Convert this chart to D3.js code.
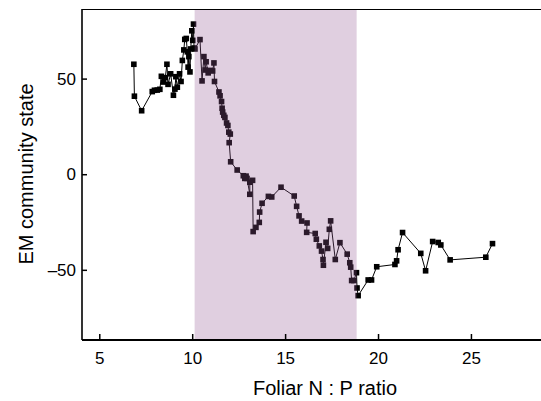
<!DOCTYPE html>
<html>
<head>
<meta charset="utf-8">
<script src="https://cdn.jsdelivr.net/npm/d3@7"></script>
<style>
  body { margin: 0; background: #fff; }
  svg { display: block; font-family: "Liberation Sans", Arial, sans-serif; }
</style>
</head>
<body>
<svg id="chart" width="541" height="401"></svg>
<script>
// foliar N:P ratio (x) and EM community state (y), in line order
var npRatio = [6.86, 6.89, 7.28, 7.85, 7.97, 8.12, 8.26, 8.34, 8.45, 8.55, 8.64, 8.70, 8.84, 8.99, 9.07, 9.12, 9.20, 9.32, 9.40,
  9.47, 9.55, 9.60, 9.68, 9.74, 9.78, 9.82, 9.88, 9.92, 9.98, 10.03, 10.07, 10.10, 10.15, 10.42, 10.53, 10.63, 10.70, 10.75,
  10.86, 10.99, 11.10, 11.17, 11.20, 11.44, 11.50, 11.58, 11.61, 11.64, 11.70, 11.76, 11.85, 11.92, 11.97, 12.05, 11.99, 12.07,
  12.42, 12.75, 12.83, 12.90, 12.95, 13.10, 13.10, 13.25, 13.28, 13.43, 13.61, 13.63, 13.76, 14.10, 14.28, 14.78, 15.49, 15.62,
  15.75, 15.89, 16.18, 16.16, 16.62, 16.68, 16.84, 16.96, 17.04, 17.06, 17.20, 17.29, 17.38, 17.45, 17.70, 17.95, 18.34, 18.48,
  18.53, 18.58, 18.70, 18.84, 18.87, 18.93, 19.47, 19.65, 19.93, 20.91, 21.00, 21.08, 21.32, 22.30, 22.56, 22.94, 23.24, 23.38,
  23.88, 25.80, 26.16]
var emState = [57.5, 40.8, 33.2, 43.2, 43.9, 44.0, 44.4, 51.2, 48.2, 50.5, 57.5, 47.0, 52.5, 41.3, 44.5, 51.0, 45.5, 52.5, 48.5,
  59.5, 65.0, 70.5, 71.0, 64.0, 56.0, 61.5, 53.5, 65.5, 75.0, 70.0, 78.5, 66.0, 65.5, 70.4, 48.8, 61.5, 54.5, 58.8,
  53.0, 54.3, 54.0, 58.2, 48.5, 43.0, 41.0, 38.0, 34.5, 32.5, 30.8, 29.7, 26.8, 25.5, 22.0, 21.0, 16.5, 6.5,
  2.2, -0.8, -2.2, -1.0, -2.2, -10.5, -4.2, -3.2, -30.0, -27.8, -25.2, -19.8, -15.2, -11.6, -11.9, -6.8, -11.4, -16.8,
  -21.8, -24.5, -25.5, -30.4, -31.0, -34.0, -37.5, -40.2, -44.6, -47.6, -35.6, -38.8, -28.8, -24.4, -44.6, -35.8, -41.8, -46.3,
  -48.6, -55.6, -55.6, -51.5, -59.5, -63.5, -55.3, -55.3, -48.4, -47.2, -45.3, -39.5, -30.5, -41.4, -50.5, -35.2, -35.7, -37.0,
  -44.8, -43.4, -36.3]
var band = [10.13, 18.85]
var xTicks = [5, 10, 15, 20, 25]
var yTicks = [-50, 0, 50]

var svg = d3.select('#chart')
var plotL = 82, plotR = 545, plotT = 9, plotB = 340

var x = d3.scaleLinear().domain([4.07, 28.77]).range([plotL, 541])
var y = d3.scaleLinear().domain([-86.7, 86.4]).range([plotB, plotT])

var pts = npRatio.map(function(v, i) { return {x: v, y: emState[i]} })

svg.append('path')
  .datum(pts)
  .attr('fill', 'none')
  .attr('stroke', '#000')
  .attr('stroke-width', 1)
  .attr('d', d3.line().x(function(d) { return x(d.x) }).y(function(d) { return y(d.y) }))

svg.selectAll('rect.pt').data(pts).enter()
  .append('rect')
  .attr('class', 'pt')
  .attr('x', function(d) { return x(d.x) - 2.8 })
  .attr('y', function(d) { return y(d.y) - 2.8 })
  .attr('width', 5.6)
  .attr('height', 5.6)
  .attr('fill', '#000')

// shaded range sits over the marks, tinting them
svg.append('rect')
  .attr('x', x(band[0]))
  .attr('y', plotT)
  .attr('width', x(band[1]) - x(band[0]))
  .attr('height', plotB - plotT)
  .attr('fill', '#945a94')
  .attr('fill-opacity', 0.29)

// frame
svg.append('line').attr('x1', plotL).attr('x2', plotR).attr('y1', plotT + 0.5).attr('y2', plotT + 0.5)
  .attr('stroke', '#000').attr('stroke-width', 1.2)

var xAxis = svg.append('g').attr('transform', 'translate(0,' + plotB + ')')
  .call(d3.axisBottom(x).tickValues(xTicks).tickSizeInner(-6).tickSizeOuter(0).tickPadding(12))
xAxis.select('.domain').attr('d', 'M' + plotL + ',0H' + plotR).attr('stroke-width', 2)
xAxis.selectAll('.tick line').attr('stroke-width', 1.5)
xAxis.selectAll('text').attr('font-size', 17).attr('fill', '#000')

var yAxis = svg.append('g').attr('transform', 'translate(' + plotL + ',0)')
  .call(d3.axisLeft(y).tickValues(yTicks).tickSizeInner(-5).tickSizeOuter(0).tickPadding(6)
    .tickFormat(function(d) { return d < 0 ? '\u2013' + Math.abs(d) : d }))
yAxis.select('.domain').attr('d', 'M0,' + plotT + 'V' + plotB).attr('stroke-width', 1.6)
yAxis.selectAll('.tick line').attr('stroke-width', 1.5)
yAxis.selectAll('text').attr('font-size', 17).attr('fill', '#000')

svg.append('text')
  .attr('x', 325).attr('y', 395)
  .attr('text-anchor', 'middle')
  .attr('font-size', 20)
  .text('Foliar N : P ratio')

svg.append('text')
  .attr('transform', 'translate(33,174) rotate(-90)')
  .attr('text-anchor', 'middle')
  .attr('font-size', 20)
  .text('EM community state')
</script>
</body>
</html>
